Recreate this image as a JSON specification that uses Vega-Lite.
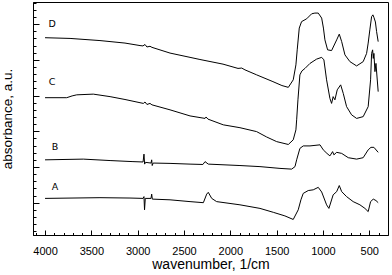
{
  "$schema": "https://vega.github.io/schema/vega-lite/v6.json",
  "width": 355,
  "height": 233,
  "autosize": {"type": "none"},
  "padding": {"left": 33, "top": 2, "right": 4, "bottom": 40},
  "config": {
    "view": {"stroke": "black", "strokeWidth": 1},
    "axis": {"domainColor": "black", "tickColor": "black", "labelColor": "black", "titleColor": "black", "labelFont": "Liberation Sans", "titleFont": "Liberation Sans", "grid": false, "titleFontWeight": "normal"}
  },
  "datasets": {
    "spectra": [
      {"s":"D","wn":4000,"a":4.62},{"s":"D","wn":3730,"a":4.60},{"s":"D","wn":3407,"a":4.54},{"s":"D","wn":3137,"a":4.47},{"s":"D","wn":2975,"a":4.40},{"s":"D","wn":2943,"a":4.39},{"s":"D","wn":2921,"a":4.43},{"s":"D","wn":2900,"a":4.36},{"s":"D","wn":2867,"a":4.38},{"s":"D","wn":2846,"a":4.35},{"s":"D","wn":2651,"a":4.19},{"s":"D","wn":2435,"a":4.07},{"s":"D","wn":2328,"a":4.01},{"s":"D","wn":2079,"a":3.88},{"s":"D","wn":1917,"a":3.76},{"s":"D","wn":1877,"a":3.77},{"s":"D","wn":1842,"a":3.72},{"s":"D","wn":1716,"a":3.58},{"s":"D","wn":1540,"a":3.39},{"s":"D","wn":1443,"a":3.28},{"s":"D","wn":1374,"a":3.23},{"s":"D","wn":1321,"a":3.44},{"s":"D","wn":1292,"a":3.86},{"s":"D","wn":1278,"a":4.28},{"s":"D","wn":1256,"a":4.89},{"s":"D","wn":1231,"a":5.07},{"s":"D","wn":1176,"a":5.15},{"s":"D","wn":1122,"a":5.29},{"s":"D","wn":1087,"a":5.31},{"s":"D","wn":1051,"a":5.31},{"s":"D","wn":1014,"a":5.17},{"s":"D","wn":995,"a":4.89},{"s":"D","wn":979,"a":4.56},{"s":"D","wn":950,"a":4.28},{"s":"D","wn":907,"a":4.26},{"s":"D","wn":852,"a":4.56},{"s":"D","wn":824,"a":4.72},{"s":"D","wn":798,"a":4.51},{"s":"D","wn":763,"a":4.14},{"s":"D","wn":709,"a":3.95},{"s":"D","wn":637,"a":3.83},{"s":"D","wn":566,"a":3.95},{"s":"D","wn":529,"a":4.18},{"s":"D","wn":512,"a":4.47},{"s":"D","wn":494,"a":4.84},{"s":"D","wn":475,"a":5.21},{"s":"D","wn":461,"a":5.26},{"s":"D","wn":450,"a":5.19},{"s":"D","wn":434,"a":5.06},{"s":"D","wn":421,"a":4.79},{"s":"D","wn":404,"a":4.51},
      {"s":"C","wn":4000,"a":2.94},{"s":"C","wn":3766,"a":2.94},{"s":"C","wn":3708,"a":2.99},{"s":"C","wn":3658,"a":3.02},{"s":"C","wn":3479,"a":3.04},{"s":"C","wn":3298,"a":2.97},{"s":"C","wn":3137,"a":2.89},{"s":"C","wn":2939,"a":2.78},{"s":"C","wn":2921,"a":2.82},{"s":"C","wn":2900,"a":2.75},{"s":"C","wn":2867,"a":2.78},{"s":"C","wn":2846,"a":2.74},{"s":"C","wn":2651,"a":2.60},{"s":"C","wn":2435,"a":2.43},{"s":"C","wn":2273,"a":2.36},{"s":"C","wn":2262,"a":2.40},{"s":"C","wn":2241,"a":2.34},{"s":"C","wn":2076,"a":2.18},{"s":"C","wn":1896,"a":2.10},{"s":"C","wn":1716,"a":1.99},{"s":"C","wn":1608,"a":1.84},{"s":"C","wn":1500,"a":1.71},{"s":"C","wn":1374,"a":1.63},{"s":"C","wn":1321,"a":1.76},{"s":"C","wn":1292,"a":2.04},{"s":"C","wn":1284,"a":2.32},{"s":"C","wn":1270,"a":2.88},{"s":"C","wn":1249,"a":3.58},{"s":"C","wn":1227,"a":3.69},{"s":"C","wn":1194,"a":3.76},{"s":"C","wn":1140,"a":3.90},{"s":"C","wn":1069,"a":4.02},{"s":"C","wn":1014,"a":4.07},{"s":"C","wn":990,"a":4.00},{"s":"C","wn":961,"a":3.44},{"s":"C","wn":925,"a":2.92},{"s":"C","wn":907,"a":2.78},{"s":"C","wn":890,"a":2.97},{"s":"C","wn":871,"a":2.88},{"s":"C","wn":846,"a":3.16},{"s":"C","wn":809,"a":3.30},{"s":"C","wn":781,"a":3.06},{"s":"C","wn":745,"a":2.69},{"s":"C","wn":691,"a":2.46},{"s":"C","wn":637,"a":2.36},{"s":"C","wn":566,"a":2.41},{"s":"C","wn":512,"a":2.69},{"s":"C","wn":486,"a":3.44},{"s":"C","wn":475,"a":4.18},{"s":"C","wn":464,"a":4.28},{"s":"C","wn":457,"a":4.04},{"s":"C","wn":450,"a":4.18},{"s":"C","wn":439,"a":3.67},{"s":"C","wn":428,"a":3.90},{"s":"C","wn":404,"a":3.11},
      {"s":"B","wn":4000,"a":1.20},{"s":"B","wn":3587,"a":1.22},{"s":"B","wn":3298,"a":1.18},{"s":"B","wn":3051,"a":1.15},{"s":"B","wn":2942,"a":1.14},{"s":"B","wn":2932,"a":1.36},{"s":"B","wn":2925,"a":1.08},{"s":"B","wn":2916,"a":1.13},{"s":"B","wn":2856,"a":1.11},{"s":"B","wn":2849,"a":1.20},{"s":"B","wn":2843,"a":1.04},{"s":"B","wn":2833,"a":1.11},{"s":"B","wn":2651,"a":1.10},{"s":"B","wn":2435,"a":1.08},{"s":"B","wn":2296,"a":1.07},{"s":"B","wn":2273,"a":1.15},{"s":"B","wn":2238,"a":1.08},{"s":"B","wn":1896,"a":1.04},{"s":"B","wn":1680,"a":1.01},{"s":"B","wn":1464,"a":0.96},{"s":"B","wn":1338,"a":0.94},{"s":"B","wn":1302,"a":1.01},{"s":"B","wn":1284,"a":1.20},{"s":"B","wn":1249,"a":1.52},{"s":"B","wn":1213,"a":1.59},{"s":"B","wn":1140,"a":1.59},{"s":"B","wn":1032,"a":1.62},{"s":"B","wn":997,"a":1.48},{"s":"B","wn":957,"a":1.38},{"s":"B","wn":925,"a":1.31},{"s":"B","wn":896,"a":1.43},{"s":"B","wn":882,"a":1.34},{"s":"B","wn":852,"a":1.41},{"s":"B","wn":798,"a":1.38},{"s":"B","wn":727,"a":1.26},{"s":"B","wn":637,"a":1.22},{"s":"B","wn":566,"a":1.26},{"s":"B","wn":512,"a":1.48},{"s":"B","wn":482,"a":1.55},{"s":"B","wn":450,"a":1.55},{"s":"B","wn":404,"a":1.41},
      {"s":"A","wn":4000,"a":0.12},{"s":"A","wn":3407,"a":0.14},{"s":"A","wn":3083,"a":0.13},{"s":"A","wn":2942,"a":0.12},{"s":"A","wn":2932,"a":0.17},{"s":"A","wn":2926,"a":-0.20},{"s":"A","wn":2918,"a":0.12},{"s":"A","wn":2856,"a":0.12},{"s":"A","wn":2849,"a":0.24},{"s":"A","wn":2842,"a":0.10},{"s":"A","wn":2651,"a":0.08},{"s":"A","wn":2435,"a":0.03},{"s":"A","wn":2291,"a":0.00},{"s":"A","wn":2255,"a":0.24},{"s":"A","wn":2238,"a":0.29},{"s":"A","wn":2201,"a":0.12},{"s":"A","wn":2148,"a":0.03},{"s":"A","wn":1896,"a":-0.06},{"s":"A","wn":1680,"a":-0.16},{"s":"A","wn":1536,"a":-0.27},{"s":"A","wn":1411,"a":-0.37},{"s":"A","wn":1321,"a":-0.47},{"s":"A","wn":1267,"a":-0.20},{"s":"A","wn":1238,"a":0.08},{"s":"A","wn":1213,"a":0.26},{"s":"A","wn":1159,"a":0.34},{"s":"A","wn":1105,"a":0.36},{"s":"A","wn":1051,"a":0.43},{"s":"A","wn":1014,"a":0.30},{"s":"A","wn":961,"a":-0.06},{"s":"A","wn":936,"a":-0.16},{"s":"A","wn":890,"a":0.22},{"s":"A","wn":852,"a":0.31},{"s":"A","wn":824,"a":0.48},{"s":"A","wn":798,"a":0.31},{"s":"A","wn":745,"a":0.17},{"s":"A","wn":674,"a":0.03},{"s":"A","wn":601,"a":-0.06},{"s":"A","wn":547,"a":-0.16},{"s":"A","wn":512,"a":-0.25},{"s":"A","wn":486,"a":0.03},{"s":"A","wn":457,"a":0.10},{"s":"A","wn":428,"a":0.06},{"s":"A","wn":404,"a":0.00}
    ],
    "labels": [
      {"s":"D","wn":3924,"a":5.0},{"s":"C","wn":3924,"a":3.38},{"s":"B","wn":3892,"a":1.56},{"s":"A","wn":3892,"a":0.44}
    ]
  },
  "layer": [
    {
      "data": {"name": "spectra"},
      "mark": {"type": "line", "color": "black", "strokeWidth": 1},
      "encoding": {
        "x": {"field": "wn", "type": "quantitative",
          "scale": {"domain": [298, 4130], "reverse": true, "nice": false, "zero": false},
          "axis": {"orient": "bottom", "values": [500,1000,1500,2000,2500,3000,3500,4000], "format": "d", "tickSize": -5, "labelFontSize": 11, "labelPadding": 15, "title": "wavenumber, 1/cm", "titleFontSize": 14, "titlePadding": 1, "labelFlush": false}},
        "y": {"field": "a", "type": "quantitative",
          "scale": {"domain": [-0.905, 5.62], "nice": false, "zero": false},
          "axis": {"orient": "left", "values": [0,1,2,3,4,5], "tickSize": -6, "labels": false, "title": "absorbance, a.u.", "titleFontSize": 13.5, "titleX": -19}},
        "detail": {"field": "s"}
      }
    },
    {
      "data": {"name": "labels"},
      "mark": {"type": "text", "color": "black", "font": "DejaVu Sans", "fontSize": 9.5},
      "encoding": {
        "x": {"field": "wn", "type": "quantitative",
          "axis": {"orient": "bottom", "values": [400,600,700,800,900,1100,1200,1300,1400,1600,1700,1800,1900,2100,2200,2300,2400,2600,2700,2800,2900,3100,3200,3300,3400,3600,3700,3800,3900,4100], "tickSize": -2.5, "labels": false, "title": null, "domain": false}},
        "y": {"field": "a", "type": "quantitative",
          "axis": {"orient": "left", "values": [-0.8,-0.6,-0.4,-0.2,0.2,0.4,0.6,0.8,1.2,1.4,1.6,1.8,2.2,2.4,2.6,2.8,3.2,3.4,3.6,3.8,4.2,4.4,4.6,4.8,5.2,5.4,5.6], "tickSize": -3, "labels": false, "title": null, "domain": false}},
        "text": {"field": "s"}
      }
    }
  ],
  "resolve": {"axis": {"x": "independent", "y": "independent"}}
}
